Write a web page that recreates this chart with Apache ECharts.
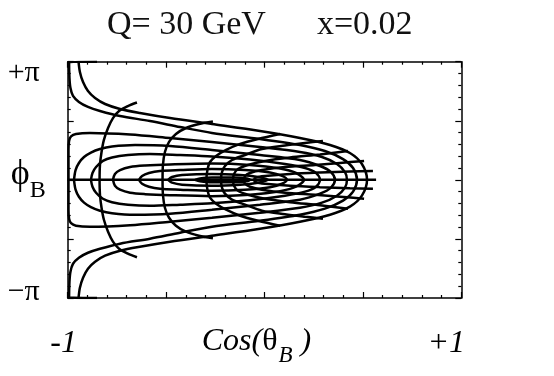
<!DOCTYPE html>
<html>
<head>
<meta charset="utf-8">
<script src="https://cdn.jsdelivr.net/npm/echarts@6/dist/echarts.min.js"></script>
<style>
  html, body { margin: 0; padding: 0; background: #fff; }
  #chart { width: 554px; height: 376px; }
</style>
</head>
<body>
<div id="chart"></div>
<script>
/*
 * Breit frame map: cos(theta_B) across, phi_B / pi up.
 * Every curve is listed for phi >= 0 only, the picture is mirror symmetric.
 */

// tick labels
var xTickLabels = { '-1': '-1', '1': '+1' };
var yTickLabels = { '-1': '\u2212\u03c0', '1': '+\u03c0' };

// outer curves coming in from the top edge (upper half, left -> tip)
var outer1 = [[-0.945, 1.0], [-0.938, 0.913], [-0.922, 0.828], [-0.897, 0.752], [-0.861, 0.693],
  [-0.810, 0.642], [-0.734, 0.600], [-0.633, 0.566], [-0.480, 0.523], [-0.267, 0.473],
  [-0.023, 0.414], [0.180, 0.354], [0.333, 0.295], [0.434, 0.227], [0.495, 0.134], [0.521, 0]];
var outer2 = [[-0.851, 1.0], [-0.993, 0.997], [-0.991, 0.862], [-0.986, 0.777], [-0.973, 0.710],
  [-0.943, 0.659], [-0.897, 0.617], [-0.836, 0.583], [-0.734, 0.540], [-0.582, 0.498],
  [-0.429, 0.447], [-0.267, 0.397], [-0.023, 0.346], [0.180, 0.295], [0.307, 0.244],
  [0.399, 0.176], [0.450, 0.100], [0.470, 0]];

// closed loops (upper half, left end -> right tip)
var loop1 = [[-0.996, 0], [-0.996, 0.253], [-0.993, 0.329], [-0.983, 0.367], [-0.958, 0.388],
  [-0.887, 0.397], [-0.683, 0.384], [-0.480, 0.354], [-0.267, 0.321], [-0.023, 0.278],
  [0.180, 0.236], [0.292, 0.193], [0.368, 0.134], [0.409, 0.066], [0.419, 0]];
var loop2 = [[-0.968, 0], [-0.960, 0.083], [-0.943, 0.143], [-0.917, 0.193], [-0.882, 0.231],
  [-0.836, 0.261], [-0.775, 0.282], [-0.658, 0.295], [-0.480, 0.287], [-0.267, 0.253],
  [-0.023, 0.210], [0.180, 0.168], [0.282, 0.117], [0.338, 0.066], [0.358, 0]];
var loop3 = [[-0.882, 0], [-0.874, 0.058], [-0.856, 0.109], [-0.821, 0.160], [-0.775, 0.189],
  [-0.694, 0.210], [-0.582, 0.219], [-0.429, 0.210], [-0.267, 0.198], [-0.074, 0.172],
  [0.104, 0.134], [0.206, 0.100], [0.262, 0.058], [0.282, 0]];
var loop4 = [[-0.770, 0], [-0.760, 0.050], [-0.734, 0.083], [-0.683, 0.109], [-0.607, 0.121],
  [-0.480, 0.130], [-0.267, 0.138], [-0.074, 0.126], [0.079, 0.096], [0.160, 0.058], [0.201, 0]];
var loop5 = [[-0.638, 0], [-0.622, 0.033], [-0.587, 0.058], [-0.531, 0.075], [-0.429, 0.083],
  [-0.267, 0.092], [-0.099, 0.083], [0.028, 0.062], [0.089, 0.033], [0.114, 0]];
var loop6 = [[-0.490, 0], [-0.470, 0.024], [-0.419, 0.041], [-0.267, 0.050], [-0.124, 0.041],
  [-0.033, 0.024], [0.018, 0]];
var loop7 = [[-0.353, 0], [-0.328, 0.011], [-0.267, 0.020], [-0.150, 0.020], [-0.089, 0.011], [-0.074, 0]];

// open arcs (upper half, point on the axis -> free end)
var arc1 = [[-0.838, 0], [-0.836, 0.126], [-0.828, 0.236], [-0.816, 0.338], [-0.795, 0.439],
  [-0.770, 0.523], [-0.739, 0.583], [-0.694, 0.625], [-0.648, 0.655]];
var arc2 = [[-0.518, 0], [-0.516, 0.126], [-0.506, 0.236], [-0.485, 0.321], [-0.450, 0.388],
  [-0.399, 0.439], [-0.333, 0.473], [-0.262, 0.494]];
var arc3 = [[-0.295, 0], [-0.290, 0.083], [-0.277, 0.151], [-0.246, 0.202], [-0.195, 0.253],
  [-0.124, 0.304], [-0.033, 0.346], [0.079, 0.388]];
var arc4 = [[-0.221, 0], [-0.216, 0.066], [-0.201, 0.117], [-0.165, 0.168], [-0.099, 0.210],
  [-0.013, 0.261], [0.104, 0.291], [0.206, 0.312], [0.297, 0.329]];
var arc5 = [[-0.160, 0], [-0.155, 0.050], [-0.135, 0.092], [-0.084, 0.126], [0.003, 0.160],
  [0.130, 0.189], [0.282, 0.215], [0.424, 0.244]];
var arc6 = [[-0.104, 0], [-0.099, 0.033], [-0.074, 0.058], [-0.013, 0.083], [0.104, 0.109],
  [0.257, 0.126], [0.384, 0.143], [0.506, 0.160]];
var arc7 = [[-0.053, 0], [-0.043, 0.020], [0.003, 0.033], [0.130, 0.050], [0.282, 0.062],
  [0.434, 0.071], [0.551, 0.075]];

// the phi = 0 line
var axisLineData = [[-1, 0], [0.567, 0]];

// upper half + reflected lower half, tip first on the way back
function loopPath(upper) {
	var lower = upper.slice(0, -1).reverse().map(function (p) { return [p[0], -p[1]]; });
	return upper.concat(lower);
}
// lower end -> axis -> upper end
function arcPath(upper) {
	var lower = upper.slice(1).reverse().map(function (p) { return [p[0], -p[1]]; });
	return lower.concat(upper);
}

var serif = 'Liberation Serif';
var curves = [];
[outer1, outer2, loop1, loop2, loop3, loop4, loop5, loop6, loop7].forEach(function (c) {
	curves.push(loopPath(c));
});
[arc1, arc2, arc3, arc4, arc5, arc6, arc7].forEach(function (c) {
	curves.push(arcPath(c));
});
curves.push(axisLineData);

var series = curves.map(function (d) {
	return {
		type: 'line',
		data: d,
		showSymbol: false,
		smooth: 0.3,
		silent: true,
		animation: false,
		lineStyle: { color: '#000', width: 2.5 }
	};
});

var tickStyle = { color: '#000', width: 1.2 };
function frameAxis(pos, showLabel) {
	return {
		type: 'value',
		position: pos,
		min: -1,
		max: 1,
		interval: 0.5,
		axisLine: { onZero: false, lineStyle: { color: '#000', width: 1.5 } },
		axisTick: { inside: true, length: 6, lineStyle: tickStyle },
		minorTick: { show: true, splitNumber: 5, length: 3, lineStyle: tickStyle },
		splitLine: { show: false },
		minorSplitLine: { show: false },
		axisLabel: { show: showLabel }
	};
}

var xBottom = frameAxis('bottom', true);
xBottom.axisLabel = {
	margin: 30,
	formatter: function (v) {
		var t = xTickLabels[String(v)];
		if (!t) return '';
		return v === 1 ? '{r|' + t + '}' : '{l|' + t + '}';
	},
	rich: {
		l: { fontFamily: serif, fontStyle: 'italic', fontSize: 32, color: '#000', padding: [0, 8, 0, 0] },
		r: { fontFamily: serif, fontStyle: 'italic', fontSize: 32, color: '#000', padding: [0, 30, 0, 0] }
	}
};
xBottom.name = '{a|Cos(}{u|\u03b8}{s|B}{a| )}';
xBottom.nameLocation = 'middle';
xBottom.nameGap = 28;
xBottom.nameMoveOverlap = false;
xBottom.nameTextStyle = {
	rich: {
		a: { fontFamily: serif, fontStyle: 'italic', fontSize: 32, color: '#000',
			verticalAlign: 'bottom', padding: [0, 0, 9, 0] },
		u: { fontFamily: serif, fontSize: 32, color: '#000', verticalAlign: 'bottom', padding: [0, 0, 9, 0] },
		s: { fontFamily: serif, fontStyle: 'italic', fontSize: 23, color: '#000',
			verticalAlign: 'bottom', padding: [0, 0, 0, 1] }
	},
	padding: [0, 16, 0, 0]
};

var yLeft = frameAxis('left', true);
yLeft.axisLabel = {
	margin: 28,
	formatter: function (v) {
		var t = yTickLabels[String(v)];
		if (!t) return '';
		return v === 1 ? '{t|' + t + '}' : '{b|' + t + '}';
	},
	rich: {
		t: { fontFamily: serif, fontSize: 30, color: '#000', padding: [22, 0, 0, 0] },
		b: { fontFamily: serif, fontSize: 30, color: '#000', padding: [0, 0, 12, 0] }
	}
};
yLeft.name = '{p|\u03d5}{s|B}';
yLeft.nameLocation = 'middle';
yLeft.nameRotate = 0;
yLeft.nameGap = 22;
yLeft.nameMoveOverlap = false;
yLeft.nameTextStyle = {
	rich: {
		p: { fontFamily: serif, fontSize: 36, color: '#000', verticalAlign: 'bottom', padding: [0, 0, 10, 0] },
		s: { fontFamily: serif, fontSize: 24, color: '#000', verticalAlign: 'bottom' }
	}
};

var chart = echarts.init(document.getElementById('chart'));
chart.setOption({
	animation: false,
	backgroundColor: '#fff',
	title: {
		text: 'Q= 30 GeV      x=0.02',
		left: 102,
		top: 3,
		textStyle: { fontFamily: serif, fontSize: 34, fontWeight: 'normal', color: '#111' }
	},
	grid: { left: 67.7, right: 92.7, top: 61.7, bottom: 78, outerBoundsMode: 'none' },
	xAxis: [xBottom, frameAxis('top', false)],
	yAxis: [yLeft, frameAxis('right', false)],
	series: series
});
</script>
</body>
</html>
